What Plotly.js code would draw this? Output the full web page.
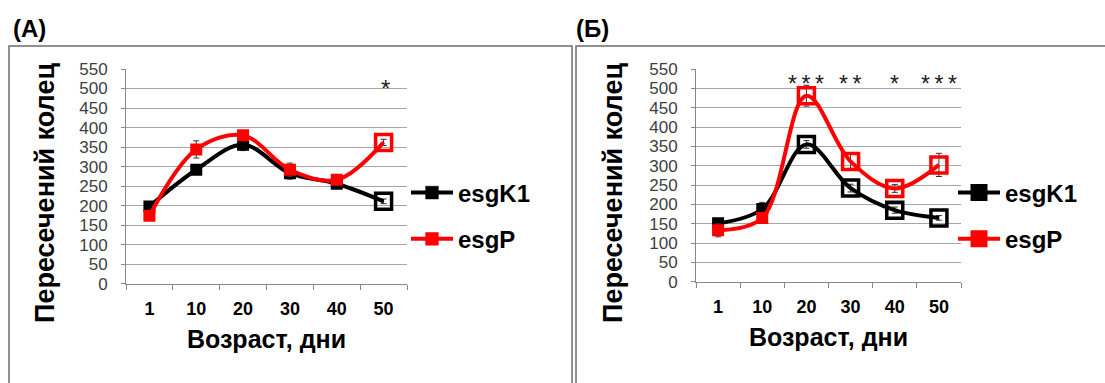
<!DOCTYPE html>
<html><head><meta charset="utf-8">
<script src="https://cdn.plot.ly/plotly-3.0.1.min.js"></script>
<style>html,body{margin:0;padding:0;background:#fff}#c{width:1105px;height:383px}</style>
</head><body><div id="c"></div>
<script>
// ---- data ----
const days = ['1', '10', '20', '30', '40', '50'];
const seriesNames = ['esgK1', 'esgP'];
// Panel (A)
const aK1 = [198, 292, 356, 283, 256, 211];
const aK1Err = [8, 8, 15, 15, 8, 6];
const aP = [174, 344, 380, 292, 266, 362];
const aPErr = [10, 22, 10, 17, 12, 8];
const aOpen = [false, false, false, false, false, true];
const aSig = ['', '', '', '', '', '*'];
// Panel (Б)
const bK1 = [151, 188, 355, 242, 185, 165];
const bK1Err = [6, 17, 10, 10, 8, 6];
const bP = [133, 165, 481, 311, 241, 302];
const bPErr = [17, 8, 27, 18, 10, 30];
const bOpen = [false, false, true, true, true, true];
const bSig = ['', '', '*\u2009*\u2009*', '*\u2009*', '*', '*\u2009*\u2009*'];
const panelLabels = ['(A)', '(Б)'];
const xTitle = 'Возраст, дни';
const yTitle = 'Пересечений колец';

// ---- layout helpers (pixels -> paper) ----
const W = 1105, H = 383;
const px = v => v / W;
const py = v => (H - v) / H;
const FONT = 'Liberation Sans, Arial, sans-serif';

function mkTrace(name, y, err, open, color, xa, ya, legend) {
  return {
    type: 'scatter', mode: 'lines+markers', name: name,
    x: days, y: y, xaxis: xa, yaxis: ya, legend: legend,
    legendgroup: name + xa,
    line: {color: color, width: 4, shape: 'spline', smoothing: 1},
    marker: {
      color: color, opacity: 1,
      symbol: open.map(o => o ? 'square-open' : 'square'),
      size: open.map(o => o ? 16 : 12),
      line: {color: color, width: open.map(o => o ? 3.5 : 0)}
    },
    error_y: {type: 'data', array: err, visible: true, color: '#333', thickness: 1, width: 3}
  };
}

const traces = [
  mkTrace(seriesNames[0], aK1, aK1Err, aOpen, '#000000', 'x', 'y', 'legend'),
  mkTrace(seriesNames[1], aP, aPErr, aOpen, '#ff0000', 'x', 'y', 'legend'),
  mkTrace(seriesNames[0], bK1, bK1Err, bOpen, '#000000', 'x2', 'y2', 'legend2'),
  mkTrace(seriesNames[1], bP, bPErr, bOpen, '#ff0000', 'x2', 'y2', 'legend2')
];

function xAxis(dom, anchor) {
  return {
    domain: dom, anchor: anchor, type: 'category', range: [-0.5, 5.5], autorange: false,
    showline: true, linecolor: '#888', linewidth: 1,
    ticks: 'outside', tickson: 'boundaries', ticklen: 5, tickcolor: '#888',
    showgrid: false, zeroline: false,
    tickfont: {family: FONT, size: 18, color: '#000', weight: 'bold'},
    ticklabelstandoff: 9,
    title: {text: xTitle, font: {family: FONT, size: 25, color: '#000', weight: 'bold'}, standoff: 12}
  };
}
function yAxis(dom, anchor) {
  return {
    domain: dom, anchor: anchor, range: [0, 550], autorange: false, dtick: 50,
    showline: true, linecolor: '#888', linewidth: 1,
    ticks: 'outside', ticklen: 4, tickcolor: '#888',
    showgrid: true, gridcolor: '#a6a6a6', gridwidth: 1, zeroline: false,
    tickfont: {family: FONT, size: 17, color: '#404040'},
    ticklabelstandoff: 10
  };
}

const annotations = [];
days.forEach((d, i) => {
  if (aSig[i]) annotations.push({xref: 'x', yref: 'y', x: i, y: 500, text: aSig[i], showarrow: false,
    xshift: 2, font: {family: FONT, size: 24, color: '#222'}});
  if (bSig[i]) annotations.push({xref: 'x2', yref: 'y2', x: i, y: 510, text: bSig[i], showarrow: false,
    font: {family: FONT, size: 23, color: '#222'}});
});
annotations.push({xref: 'paper', yref: 'paper', x: px(11), y: py(28), xanchor: 'left', yanchor: 'middle',
  text: panelLabels[0], showarrow: false, font: {family: FONT, size: 24, color: '#000', weight: 'bold'}});
annotations.push({xref: 'paper', yref: 'paper', x: px(574), y: py(28), xanchor: 'left', yanchor: 'middle',
  text: panelLabels[1], showarrow: false, font: {family: FONT, size: 24, color: '#000', weight: 'bold'}});
// rotated y-axis titles
[[45, 193], [613, 193]].forEach(p => annotations.push({
  xref: 'paper', yref: 'paper', x: px(p[0]), y: py(p[1]), xanchor: 'center', yanchor: 'middle',
  text: yTitle, textangle: -90, showarrow: false,
  font: {family: FONT, size: 27, color: '#000', weight: 'bold'}}));

const legendBase = {
  xref: 'paper', yref: 'paper', yanchor: 'middle', xanchor: 'left',
  bgcolor: 'rgba(0,0,0,0)', borderwidth: 0, tracegroupgap: 12,
  font: {family: FONT, size: 24, color: '#000', weight: 'bold'},
  itemwidth: 42
};

const layout = {
  width: W, height: H, margin: {l: 0, r: 0, t: 0, b: 0},
  paper_bgcolor: '#fff', plot_bgcolor: '#fff', showlegend: true,
  xaxis: xAxis([px(126), px(407)], 'y'),
  yaxis: yAxis([py(283.7), py(69)], 'x'),
  xaxis2: xAxis([px(696), px(961)], 'y2'),
  yaxis2: yAxis([py(281.7), py(69)], 'x2'),
  legend: Object.assign({}, legendBase, {x: px(406), y: py(216)}),
  legend2: Object.assign({}, legendBase, {x: px(953), y: py(216)}),
  annotations: annotations,
  shapes: [
    {type: 'rect', xref: 'paper', yref: 'paper', x0: px(9), x1: px(572), y0: -0.2, y1: py(46),
      line: {color: '#6e6e6e', width: 1.5}},
    {type: 'rect', xref: 'paper', yref: 'paper', x0: px(576), x1: 1.05, y0: -0.2, y1: py(46),
      line: {color: '#6e6e6e', width: 1.5}}
  ]
};

Plotly.newPlot('c', traces, layout, {displayModeBar: false, staticPlot: true});
</script></body></html>
